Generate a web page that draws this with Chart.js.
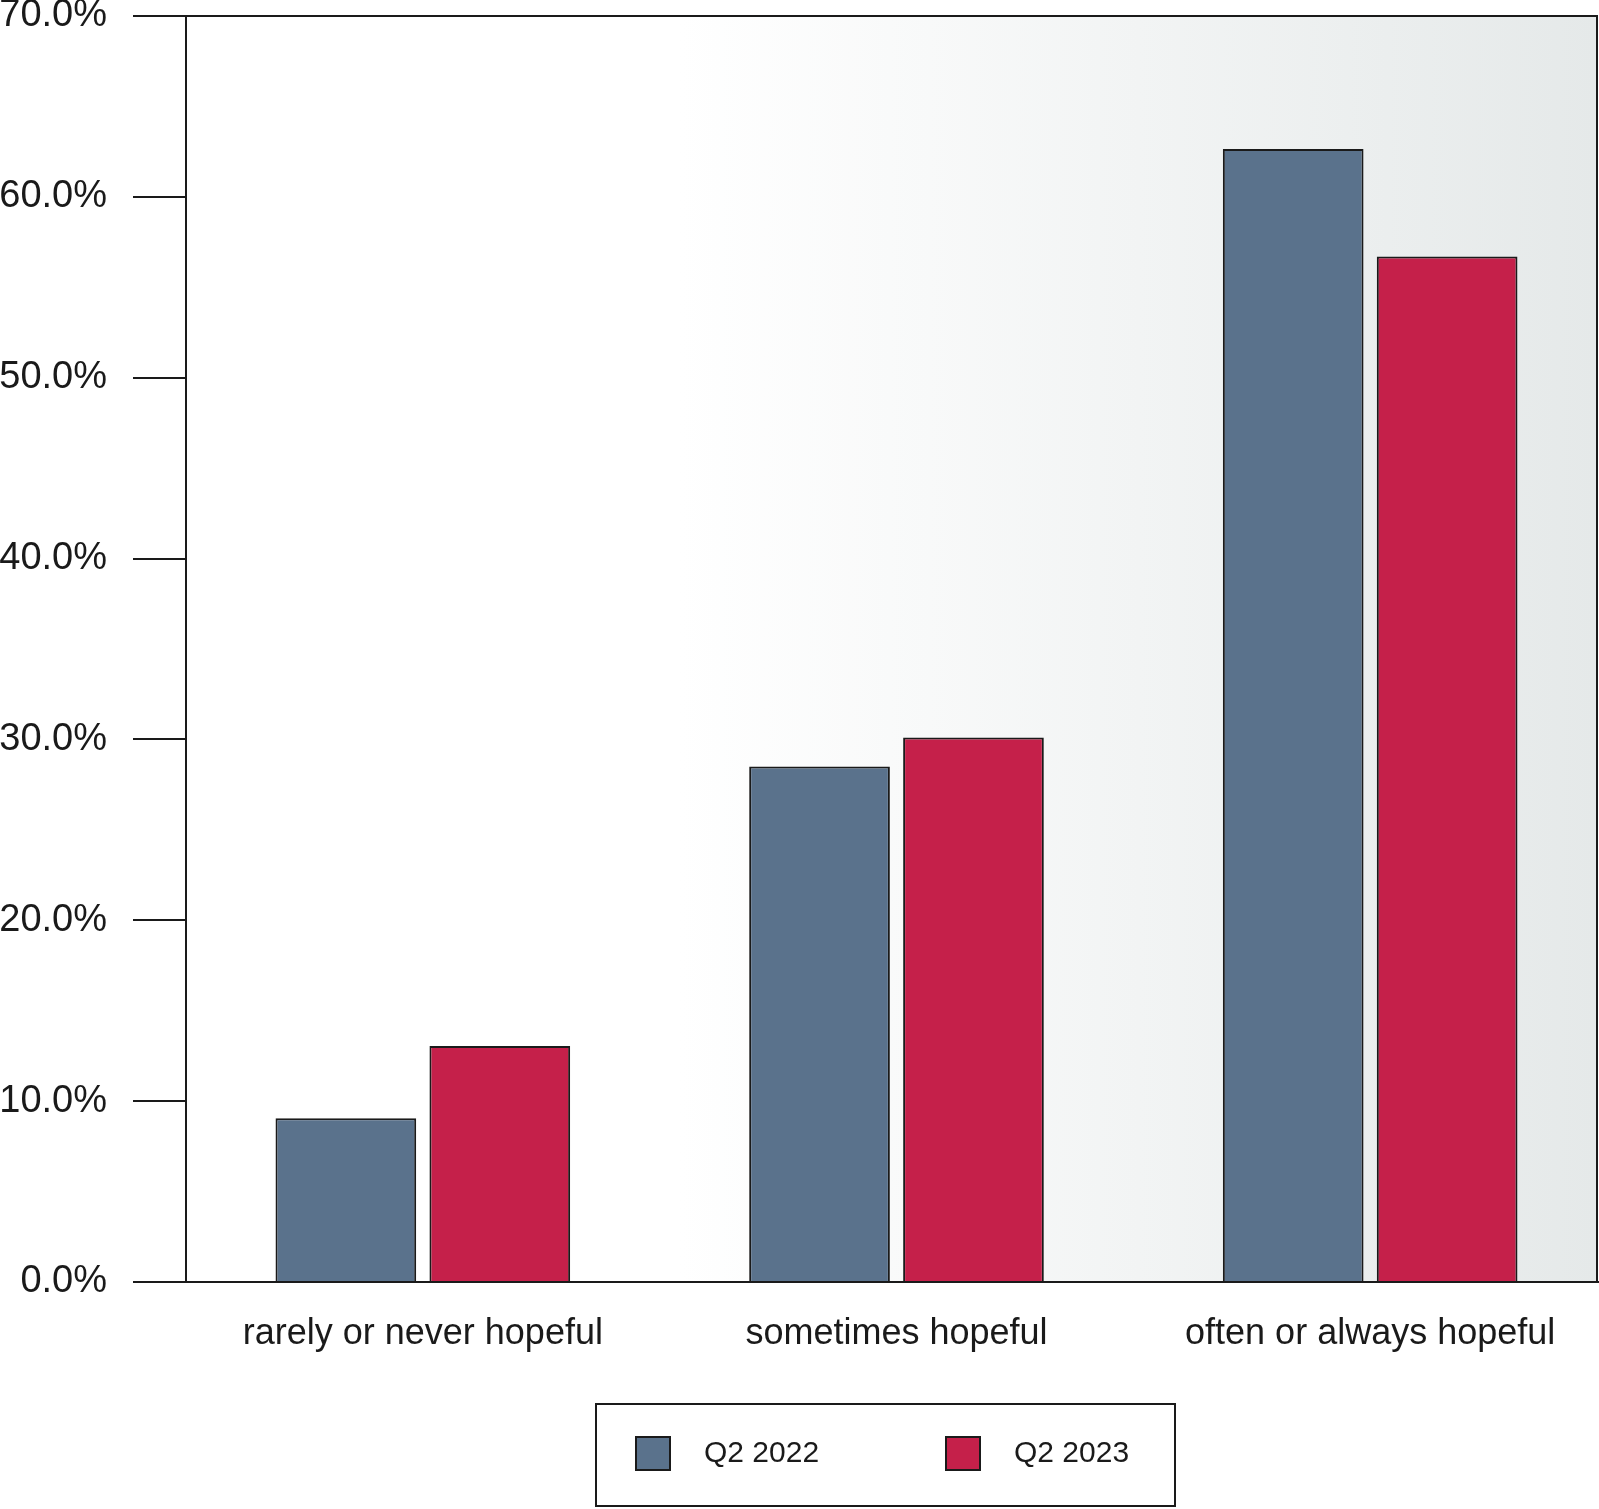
<!DOCTYPE html>
<html>
<head>
<meta charset="utf-8">
<script src="https://cdn.jsdelivr.net/npm/chart.js@4/dist/chart.umd.min.js"></script>
<style>
  html, body { margin: 0; background: #ffffff; overflow: hidden; }
  /* canvas runs a few px past the window so the category slots line up with the original */
  #wrap { width: 1607px; height: 1509px; position: relative; }
</style>
</head>
<body>
<div id="wrap"><canvas id="hope_chart"></canvas></div>
<script>
const categories = ["rarely or never hopeful", "sometimes hopeful", "often or always hopeful"];
const seriesNames = ["Q2 2022", "Q2 2023"];
const q2022 = [9.05, 28.5, 62.65];
const q2023 = [13.05, 30.1, 56.7];
const seriesColors = ["#5a728c", "#c5204a"];

const FONT = "'Liberation Sans', Arial, sans-serif";
const VISIBLE_RIGHT = 1597;

// light grey wash on the right half of the plot, plus the frame
const plotBackground = {
  id: "plotBackground",
  beforeDraw(chart) {
    const { ctx, chartArea: a } = chart;
    const right = Math.min(a.right, VISIBLE_RIGHT);
    const grad = ctx.createLinearGradient(a.left, 0, right, 0);
    grad.addColorStop(0, "#ffffff");
    grad.addColorStop(0.35, "#ffffff");
    grad.addColorStop(1, "#e5e9e9");
    ctx.save();
    ctx.fillStyle = grad;
    ctx.fillRect(a.left, a.top, right - a.left, a.bottom - a.top);
    ctx.restore();
  },
  afterDraw(chart) {
    const { ctx, chartArea: a } = chart;
    const right = Math.min(a.right, VISIBLE_RIGHT);
    ctx.save();
    ctx.strokeStyle = "#1a1a1a";
    ctx.lineWidth = 2;
    ctx.strokeRect(a.left, a.top, right - a.left, a.bottom - a.top);
    ctx.restore();
  },
};

// boxed legend below the axis labels
const boxedLegend = {
  id: "boxedLegend",
  afterDraw(chart) {
    const { ctx } = chart;
    const boxW = 579, boxH = 102;
    const left = 596;
    const top = chart.height - boxH - 3;
    ctx.save();
    ctx.strokeStyle = "#1a1a1a";
    ctx.lineWidth = 2;
    ctx.strokeRect(left, top, boxW, boxH);

    const offsets = [40, 350];
    ctx.font = "30px " + FONT;
    ctx.textBaseline = "middle";
    ctx.textAlign = "left";
    chart.data.datasets.forEach((ds, i) => {
      const sx = left + offsets[i];
      const sy = top + 33;
      ctx.fillStyle = ds.backgroundColor;
      ctx.fillRect(sx, sy, 34, 33);
      ctx.lineWidth = 2;
      ctx.strokeRect(sx, sy, 34, 33);
      ctx.fillStyle = "#1a1a1a";
      ctx.fillText(ds.label, sx + 68, sy + 17);
    });
    ctx.restore();
  },
};

const data = {
  labels: categories,
  datasets: [
    {
      label: seriesNames[0],
      data: q2022,
      backgroundColor: seriesColors[0],
      borderColor: "#1a1a1a",
      borderWidth: 2,
    },
    {
      label: seriesNames[1],
      data: q2023,
      backgroundColor: seriesColors[1],
      borderColor: "#1a1a1a",
      borderWidth: 2,
    },
  ],
};

const config = {
  type: "bar",
  data,
  options: {
    responsive: true,
    maintainAspectRatio: false,
    animation: false,
    categoryPercentage: 0.65,
    barPercentage: 0.914,
    layout: { padding: { top: 16, right: 0, left: 0, bottom: 154 } },
    plugins: {
      legend: { display: false },
      tooltip: { enabled: false },
    },
    scales: {
      x: {
        grid: { display: false },
        border: { display: true, color: "#1a1a1a", width: 2 },
        ticks: {
          color: "#1a1a1a",
          padding: 22,
          font: { family: FONT, size: 36 },
        },
        afterFit(scale) {
          scale.height = 73;
          scale.paddingLeft = 0;
          scale.paddingRight = 0;
        },
      },
      y: {
        min: 0,
        max: 70,
        grid: {
          drawOnChartArea: false,
          drawTicks: true,
          tickLength: 53,
          color: "#1a1a1a",
          lineWidth: 2,
        },
        border: { display: true, color: "#1a1a1a", width: 2 },
        ticks: {
          stepSize: 10,
          color: "#1a1a1a",
          padding: 26,
          font: { family: FONT, size: 38 },
          callback: (v) => v.toFixed(1) + "%",
        },
        afterFit(scale) {
          scale.width = 186;
          scale.paddingTop = 0;
          scale.paddingBottom = 0;
        },
      },
    },
  },
  plugins: [plotBackground, boxedLegend],
};

window.addEventListener("DOMContentLoaded", function () {
  new Chart(document.getElementById("hope_chart"), config);
});
</script>
</body>
</html>
